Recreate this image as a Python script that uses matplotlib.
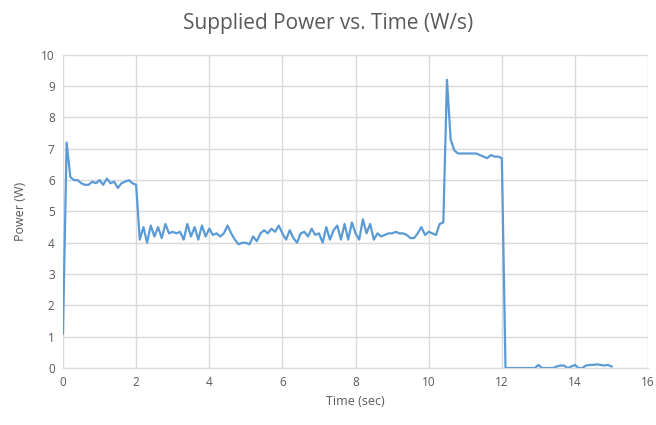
import matplotlib.pyplot as plt

# 采样时间 (秒) 与功率 (W)
time_s = [0.0, 0.1, 0.2, 0.3, 0.4, 0.5, 0.6, 0.7, 0.8, 0.9,
          1.0, 1.1, 1.2, 1.3, 1.4, 1.5, 1.6, 1.7, 1.8, 1.9,
          2.0, 2.1, 2.2, 2.3, 2.4, 2.5, 2.6, 2.7, 2.8, 2.9,
          3.0, 3.1, 3.2, 3.3, 3.4, 3.5, 3.6, 3.7, 3.8, 3.9,
          4.0, 4.1, 4.2, 4.3, 4.4, 4.5, 4.6, 4.7, 4.8, 4.9,
          5.0, 5.1, 5.2, 5.3, 5.4, 5.5, 5.6, 5.7, 5.8, 5.9,
          6.0, 6.1, 6.2, 6.3, 6.4, 6.5, 6.6, 6.7, 6.8, 6.9,
          7.0, 7.1, 7.2, 7.3, 7.4, 7.5, 7.6, 7.7, 7.8, 7.9,
          8.0, 8.1, 8.2, 8.3, 8.4, 8.5, 8.6, 8.7, 8.8, 8.9,
          9.0, 9.1, 9.2, 9.3, 9.4, 9.5, 9.6, 9.7, 9.8, 9.9,
          10.0, 10.1, 10.2, 10.3, 10.4, 10.5, 10.6, 10.7, 10.8, 10.9,
          11.0, 11.1, 11.2, 11.3, 11.4, 11.5, 11.6, 11.7, 11.8, 11.9,
          12.0, 12.1, 12.2, 12.3, 12.4, 12.5, 12.6, 12.7, 12.8, 12.9,
          13.0, 13.1, 13.2, 13.3, 13.4, 13.5, 13.6, 13.7, 13.8, 13.9,
          14.0, 14.1, 14.2, 14.3, 14.4, 14.5, 14.6, 14.7, 14.8, 14.9,
          15.0]

power_w = [1.1, 7.2, 6.1, 6.0, 6.0, 5.9, 5.85, 5.85, 5.95, 5.9,
           6.0, 5.85, 6.05, 5.9, 5.95, 5.75, 5.9, 5.95, 6.0, 5.9,
           5.85, 4.1, 4.5, 4.0, 4.55, 4.2, 4.5, 4.15, 4.6, 4.3,
           4.35, 4.3, 4.35, 4.1, 4.6, 4.2, 4.5, 4.1, 4.55, 4.2,
           4.45, 4.25, 4.3, 4.2, 4.3, 4.55, 4.3, 4.1, 3.95, 4.0,
           4.0, 3.95, 4.2, 4.05, 4.3, 4.4, 4.3, 4.45, 4.35, 4.55,
           4.3, 4.1, 4.4, 4.15, 4.0, 4.3, 4.35, 4.2, 4.45, 4.25,
           4.3, 4.0, 4.5, 4.1, 4.4, 4.55, 4.1, 4.6, 4.1, 4.65,
           4.3, 4.1, 4.75, 4.3, 4.6, 4.1, 4.3, 4.2, 4.25, 4.3,
           4.3, 4.35, 4.3, 4.3, 4.25, 4.15, 4.15, 4.3, 4.5, 4.25,
           4.35, 4.3, 4.25, 4.6, 4.65, 9.2, 7.3, 6.95, 6.85, 6.85,
           6.85, 6.85, 6.85, 6.85, 6.8, 6.75, 6.7, 6.8, 6.75, 6.75,
           6.7, 0.0, 0.0, 0.0, 0.0, 0.0, 0.0, 0.0, 0.0, 0.0,
           0.1, 0.0, 0.0, 0.0, 0.0, 0.05, 0.08, 0.08, 0.0, 0.05,
           0.1, 0.0, 0.0, 0.08, 0.1, 0.1, 0.12, 0.1, 0.08, 0.1,
           0.05]

x_ticks = [0, 2, 4, 6, 8, 10, 12, 14, 16]
y_ticks = [0, 1, 2, 3, 4, 5, 6, 7, 8, 9, 10]

plt.rcParams['font.family'] = ['Open Sans', 'DejaVu Sans']

fig = plt.figure(figsize=(6.56, 4.25), dpi=100)
ax = fig.add_axes([0.096, 0.134, 0.892, 0.737])

ax.plot(time_s, power_w, color='#5B9BD5', linewidth=1.6)

ax.set_xlim(0, 16)
ax.set_ylim(0, 10)
ax.set_xticks(x_ticks)
ax.set_yticks(y_ticks)
ax.grid(True, color='#d9d9d9', linewidth=1)
ax.set_axisbelow(True)
for s in ['top', 'right', 'left']:
    ax.spines[s].set_visible(False)
ax.spines['bottom'].set_color('#d9d9d9')
ax.tick_params(length=0, labelsize=8.5, colors='#595959', pad=6)

ax.set_xlabel('Time (sec)', fontsize=9, color='#595959')
ax.set_ylabel('Power (W)', fontsize=9, color='#595959', labelpad=10)
fig.text(0.5, 0.945, 'Supplied Power vs. Time (W/s)', ha='center', va='center',
         fontsize=15, color='#595959')

fig.savefig('out.png', dpi=100)
